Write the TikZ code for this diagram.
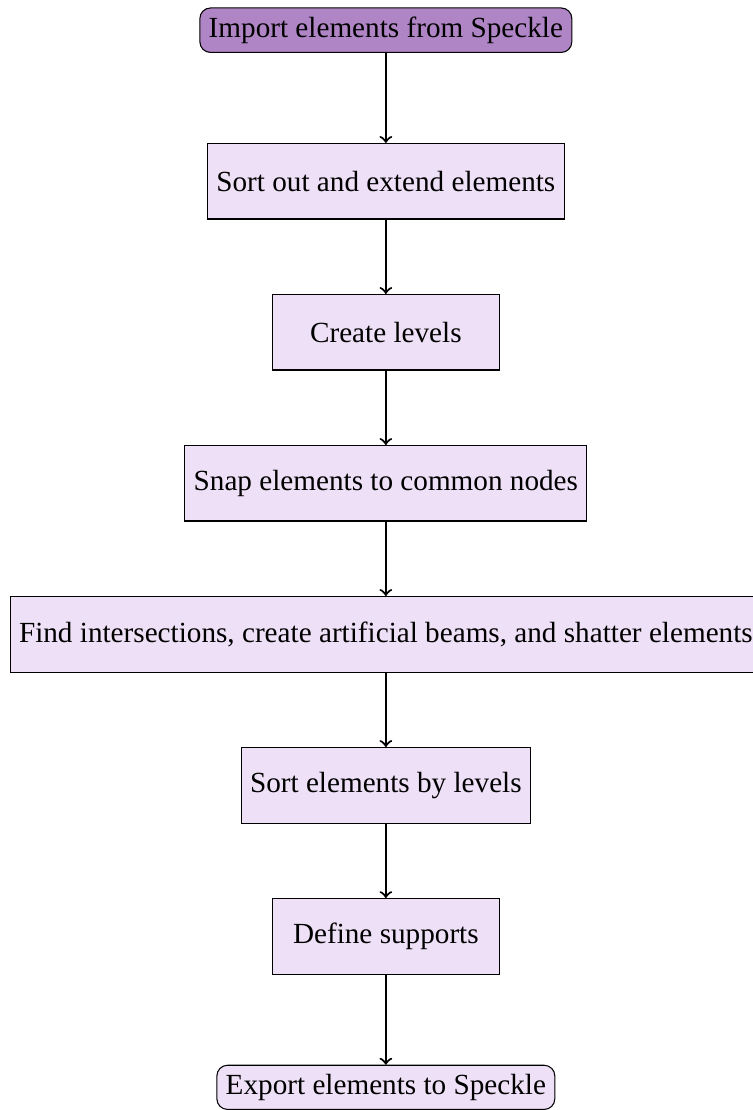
\documentclass[tikz,border=0pt]{standalone}
\usepackage{fontspec}
\setmainfont{Liberation Serif}
\usetikzlibrary{positioning}
\definecolor{startfill}{RGB}{175,133,197}
\definecolor{boxfill}{RGB}{238,224,246}
\tikzset{
  every node/.style={font=\fontsize{11pt}{13.6pt}\selectfont},
  startstop/.style={rectangle, rounded corners, draw=black, fill=startfill},
  endstop/.style={rectangle, rounded corners, draw=black, fill=boxfill},
  process/.style={rectangle, minimum width=3cm, minimum height=1cm, draw=black, fill=boxfill},
  arrow/.style={thick,->}
}
\begin{document}
\begin{tikzpicture}[node distance=2cm, on grid]
% fix the size of the page
\useasboundingbox (-5.11,0.40) rectangle (4.85,-14.30);

% draw nodes
\node (start) [startstop] {Import elements from Speckle};
\node (sortext) [process, below=of start] {Sort out and extend elements};
\node (levels) [process, below=of sortext] {Create levels};
\node (snap) [process, below=of levels] {Snap elements to common nodes};
\node (intersect) [process, below=of snap] {Find intersections, create artificial beams, and shatter elements};
\node (sortlev) [process, below=of intersect] {Sort elements by levels};
\node (supports) [process, below=of sortlev] {Define supports};
\node (stop) [endstop, below=of supports] {Export elements to Speckle};

% draw arrows
\draw [arrow] (start) -- (sortext);
\draw [arrow] (sortext) -- (levels);
\draw [arrow] (levels) -- (snap);
\draw [arrow] (snap) -- (intersect);
\draw [arrow] (intersect) -- (sortlev);
\draw [arrow] (sortlev) -- (supports);
\draw [arrow] (supports) -- (stop);
\end{tikzpicture}
\end{document}
